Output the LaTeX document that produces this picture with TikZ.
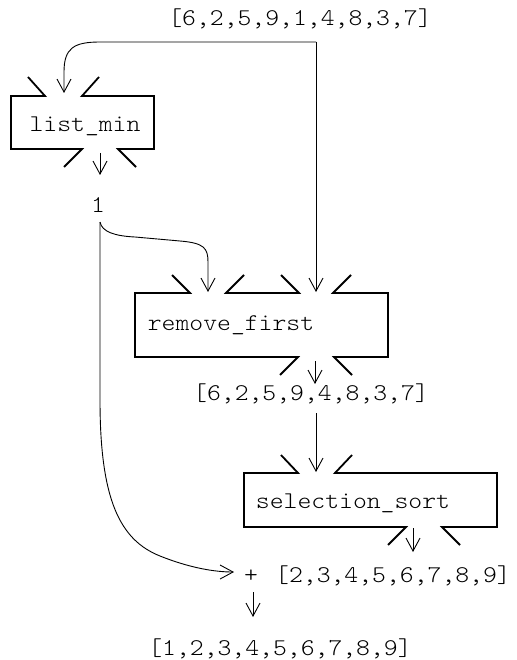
\documentclass[tikz,border=0pt]{standalone}
\usepackage{fontspec}
\newfontfamily\courlike{lmmonolt10-regular.otf}[FakeStretch=1.10]
\usetikzlibrary{arrows.meta}
\begin{document}
\begin{tikzpicture}[x=1pt,y=-1pt,
  lbl/.style={font=\courlike\fontsize{24}{29}\selectfont, inner sep=0pt, anchor=base},
  conn/.style={line width=0.9pt, -{Straight Barb[length=13pt,width=14pt]}},
  box/.style={line width=1.8pt, line join=miter}]
\useasboundingbox (0,0) rectangle (516,660);

% text nodes
\node[lbl] (src) at (300,26) {[6,2,5,9,1,4,8,3,7]};
\node[lbl] (lm) at (85,132) {list\_min};
\node[lbl] (one) at (98,212) {1};
\node[lbl] (rf) at (231,330) {remove\_first};
\node[lbl] (mid) at (311,400) {[6,2,5,9,4,8,3,7]};
\node[lbl] (ss) at (353,508) {selection\_sort};
\node[lbl] (plus) at (251,582) {+};
\node[lbl] (sorted) at (393,582) {[2,3,4,5,6,7,8,9]};
\node[lbl] (final) at (280,655) {[1,2,3,4,5,6,7,8,9]};

% list_min box
\draw[box] (28,77) -- (45,96) -- (11,96) -- (11,149) -- (82,149) -- (64,167);
\draw[box] (136,167) -- (118,149) -- (154,149) -- (154,96) -- (82,96) -- (99,77);

% remove_first box
\draw[box] (172,275) -- (190,293) -- (135,293) -- (135,357) -- (298,357) -- (280,375);
\draw[box] (352,375) -- (334,357) -- (388,357) -- (388,293) -- (333,293) -- (351,275);
\draw[box] (244,275) -- (226,293) -- (299,293) -- (281,275);

% selection_sort box
\draw[box] (281,455) -- (298,473) -- (244,473) -- (244,527) -- (406,527) -- (388,545);
\draw[box] (460,545) -- (442,527) -- (497,527) -- (497,473) -- (335,473) -- (352,455);

% coordinates
\coordinate (split) at (316,42);
\coordinate (lmin) at (64,93);
\coordinate (rfinA) at (208,292);
\coordinate (rfinB) at (316,292);
\coordinate (onefrom) at (100,222);
\coordinate (midfrom) at (316,413);
\coordinate (ssin) at (316,472);
\coordinate (plusin) at (234,572);

% connectors
\draw[conn] (split) -- (rfinB);
\draw[conn] (split) -- (100,42) .. controls (74,42) and (64,48) .. (64,72) -- (lmin);
\draw[conn] (onefrom) .. controls (102,232) and (115,236) .. (135,237) -- (180,241) .. controls (204,243) and (208,248) .. (208,262) -- (rfinA);
\draw[conn] (onefrom) -- (100,400) .. controls (100,500) and (120,540) .. (160,556) .. controls (190,568) and (215,572) .. (plusin);
\draw[conn] (midfrom) -- (ssin);

% output port arrows
\draw[conn] (100,153) -- (100,175);
\draw[conn] (315,361) -- (315,384);
\draw[conn] (413,528) -- (413,552);
\draw[conn] (253,592) -- (253,617);
\end{tikzpicture}
\end{document}
